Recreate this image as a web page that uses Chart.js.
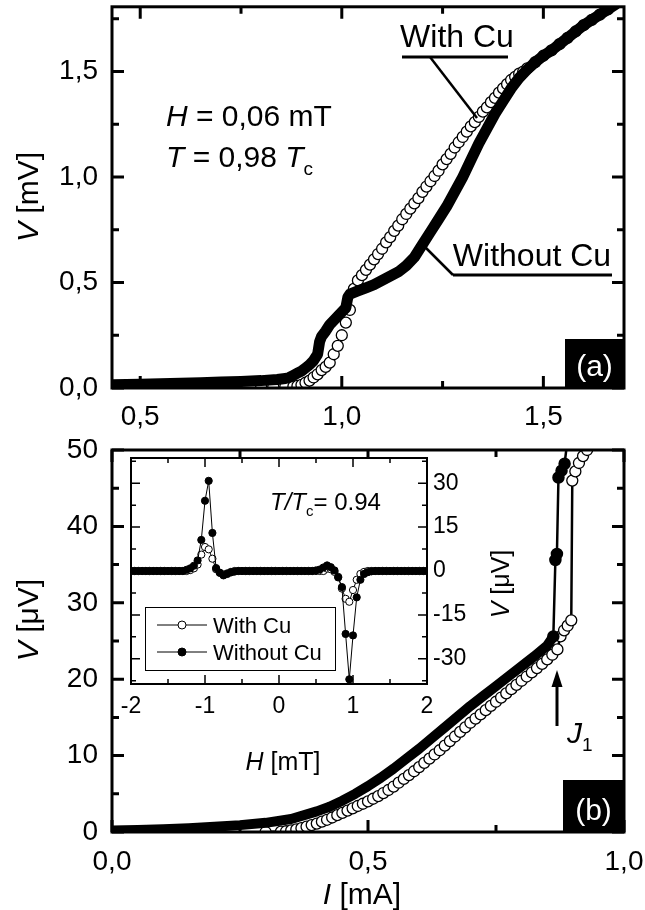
<!DOCTYPE html>
<html>
<head>
<meta charset="utf-8">
<script src="https://cdn.jsdelivr.net/npm/chart.js@4.4.1/dist/chart.umd.min.js"></script>
<style>
  html, body { margin: 0; padding: 0; background: #fff; }
  #wrap { position: relative; width: 645px; height: 910px; overflow: hidden; background: #fff; }
  canvas { position: absolute; }
</style>
</head>
<body>
<div id="wrap">
  <canvas id="top" width="645" height="440" style="left:0;top:0;width:645px;height:440px"></canvas>
  <canvas id="bottom" width="645" height="480" style="left:0;top:430px;width:645px;height:480px"></canvas>
  <canvas id="inset" width="440" height="360" style="left:100px;top:430px;width:440px;height:360px"></canvas>
</div>
<script>
const FONT = '"Liberation Sans", Arial, sans-serif';

// ---- panel (a): V [mV] vs I [mA], H = 0,06 mT
const topIWithout = [0.43,0.50,0.55,0.60,0.65,0.70,0.75,0.80,0.84,0.86,
  0.87,0.88,0.89,0.90,0.91,0.92,0.93,0.94,0.945,0.95,
  0.96,0.97,0.98,0.99,1.00,1.01,1.015,1.02,1.04,1.06,
  1.08,1.10,1.12,1.14,1.16,1.18,1.20,1.22,1.24,1.26,
  1.28,1.30,1.32,1.34,1.36,1.38,1.40,1.42,1.44,1.46,
  1.48,1.50,1.52,1.54,1.56,1.58,1.60,1.62,1.64,1.66,1.68];
const topVWithout = [0.015,0.018,0.02,0.022,0.025,0.028,0.031,0.035,0.04,0.045,
  0.05,0.06,0.07,0.08,0.095,0.11,0.13,0.16,0.22,0.245,
  0.27,0.30,0.32,0.34,0.36,0.38,0.43,0.445,0.46,0.475,
  0.49,0.51,0.53,0.55,0.58,0.62,0.68,0.74,0.80,0.86,
  0.93,1.0,1.08,1.16,1.23,1.30,1.36,1.42,1.47,1.51,
  1.545,1.575,1.60,1.63,1.66,1.69,1.72,1.745,1.77,1.795,1.82];
const topIWith = [0.80,0.83,0.86,0.88,0.89,0.90,0.91,0.92,0.93,0.94,
  0.95,0.96,0.97,0.98,0.99,1.00,1.01,1.02,1.03,1.04,
  1.05,1.06,1.07,1.08,1.09,1.10,1.11,1.12,1.13,1.14,
  1.15,1.16,1.17,1.18,1.19,1.20,1.21,1.22,1.23,1.24,
  1.25,1.26,1.27,1.28,1.29,1.30,1.31,1.32,1.33,1.34,
  1.35,1.36,1.37,1.38,1.39,1.40,1.41,1.42,1.43,1.44,
  1.45,1.46,1.48,1.50,1.52,1.54,1.56,1.58,1.60,1.62,
  1.64,1.66];
const topVWith = [0.005,0.006,0.007,0.008,0.01,0.015,0.025,0.035,0.05,0.065,
  0.085,0.10,0.12,0.16,0.20,0.25,0.31,0.37,0.47,0.51,
  0.535,0.56,0.585,0.61,0.635,0.66,0.69,0.715,0.745,0.77,
  0.80,0.825,0.85,0.875,0.90,0.93,0.955,0.98,1.005,1.03,
  1.06,1.085,1.11,1.14,1.165,1.19,1.215,1.24,1.26,1.285,
  1.31,1.33,1.355,1.375,1.40,1.42,1.44,1.46,1.475,1.49,
  1.50,1.515,1.545,1.575,1.60,1.63,1.66,1.69,1.72,1.745,
  1.77,1.795];

// ---- panel (b): V [uV] vs I [mA]
const botIWithout = [0,0.05,0.10,0.15,0.20,0.25,0.30,0.35,0.40,0.425,
  0.45,0.475,0.50,0.525,0.55,0.575,0.60,0.625,0.65,0.675,
  0.70,0.725,0.75,0.775,0.80,0.825,0.85,0.862,0.866,0.869,
  0.872,0.878,0.884,0.889];
const botVWithout = [0.2,0.25,0.35,0.5,0.7,0.9,1.2,1.7,2.7,3.3,
  4.1,5.0,6.0,7.1,8.3,9.6,10.9,12.3,13.7,15.1,
  16.5,17.8,19.1,20.4,21.7,23.0,24.4,25.6,35.6,36.4,
  46.4,47.3,48.2,51];
const botJumpAt = 27; // index of the last point before the voltage jump
const botIWith = [0.30,0.33,0.34,0.35,0.36,0.37,0.38,0.39,0.40,0.41,
  0.42,0.43,0.44,0.45,0.46,0.47,0.48,0.49,0.50,0.51,
  0.52,0.53,0.54,0.55,0.56,0.57,0.58,0.59,0.60,0.61,
  0.62,0.63,0.64,0.65,0.66,0.67,0.68,0.69,0.70,0.71,
  0.72,0.73,0.74,0.75,0.76,0.77,0.78,0.79,0.80,0.81,
  0.82,0.83,0.84,0.85,0.86,0.87,0.876,0.883,0.890,0.897,
  0.899,0.905,0.912,0.920,0.928,0.936];
const botVWith = [0,0.05,0.1,0.2,0.35,0.5,0.7,0.9,1.1,1.35,
  1.6,1.9,2.2,2.5,2.8,3.1,3.4,3.7,4.0,4.35,
  4.7,5.1,5.5,5.95,6.45,6.95,7.45,7.95,8.5,9.05,
  9.6,10.15,10.7,11.3,11.9,12.5,13.1,13.7,14.3,14.85,
  15.4,15.95,16.5,17.05,17.6,18.15,18.7,19.25,19.8,20.35,
  20.9,21.45,22.0,22.6,23.2,23.9,25.6,26.4,27.0,27.7,
  46.0,47.2,48.3,49.2,50.0,50.8];

// ---- inset: V [uV] vs H [mT], T/Tc = 0.94
const insetH = [-2.00,-1.95,-1.90,-1.85,-1.80,-1.75,-1.70,-1.65,-1.60,-1.55,
  -1.50,-1.45,-1.40,-1.35,-1.30,-1.25,-1.20,-1.15,-1.10,-1.05,
  -1.00,-0.95,-0.90,-0.85,-0.80,-0.75,-0.70,-0.65,-0.60,-0.55,
  -0.50,-0.45,-0.40,-0.35,-0.30,-0.25,-0.20,-0.15,-0.10,-0.05,
  0.00,0.05,0.10,0.15,0.20,0.25,0.30,0.35,0.40,0.45,
  0.50,0.55,0.60,0.65,0.70,0.75,0.80,0.85,0.90,0.95,
  1.00,1.05,1.10,1.15,1.20,1.25,1.30,1.35,1.40,1.45,
  1.50,1.55,1.60,1.65,1.70,1.75,1.80,1.85,1.90,1.95,
  2.00];
const insetWithout = [0,0,0,0,0,0,0,0,0,0,
  0,0,0,0,0,0.4,0.9,1.8,3.6,10.6,
  24.0,30.8,13.0,1.0,-0.6,-1.5,-1.0,-0.5,-0.2,0,
  0,0,0,0,0,0,0,0,0,0,
  0,0,0,0,0,0,0,0,0,0,
  0.2,0.5,1.2,1.9,1.3,0.2,-2.2,-5.5,-21.5,-37.0,
  -22.0,-9.0,-3.0,-1.0,-0.4,-0.1,0,0,0,0,
  0,0,0,0,0,0,0,0,0,0,
  0];
const insetWith = [0,0,0,0,0,0,0,0,0,0,
  0,0,0,0,0,0,0.3,0.9,2.2,5.6,
  8.2,7.4,4.2,0.6,-0.6,-1.2,-0.8,-0.3,0,0,
  0,0,0,0,0,0,0,0,0,0,
  0,0,0,0,0,0,0,0,0,0,
  0,0,0,0.8,0.6,-0.3,-2.0,-6.0,-9.5,-10.5,
  -6.5,-3.0,-1.0,-0.3,0,0,0,0,0,0,
  0,0,0,0,0,0,0,0,0,0,
  0];

// ---- ticks
const topXTicks = [0.5, 1.0, 1.5], topXLabels = ['0,5', '1,0', '1,5'], topXMinor = [0.75, 1.25];
const topYTicks = [0, 0.5, 1.0, 1.5], topYLabels = ['0,0', '0,5', '1,0', '1,5'], topYMinor = [0.25, 0.75, 1.25, 1.75];
const botXTicks = [0, 0.5, 1.0], botXLabels = ['0,0', '0,5', '1,0'], botXMinor = [0.25, 0.75];
const botYTicks = [0, 10, 20, 30, 40, 50], botYLabels = ['0', '10', '20', '30', '40', '50'], botYMinor = [5, 15, 25, 35, 45];
const insXTicks = [-2, -1, 0, 1, 2], insXLabels = ['-2', '-1', '0', '1', '2'], insXMinor = [-1.5, -0.5, 0.5, 1.5];
const insYTicks = [-30, -15, 0, 15, 30], insYLabels = ['-30', '-15', '0', '15', '30'], insYMinor = [-37.5, -22.5, -7.5, 7.5, 22.5, 37.5];

function pts(xs, ys) {
  return xs.map((x, i) => ({x: x, y: ys[i]}));
}

function axis(min, max, vals, labels, size, pad, fit, position) {
  return {
    type: 'linear', position: position, min: min, max: max,
    grid: {display: false, drawTicks: false},
    border: {display: false},
    afterBuildTicks: s => { s.ticks = vals.map(v => ({value: v})); },
    afterFit: s => {
      if (s.isHorizontal()) s.height = fit; else s.width = fit;
      s.paddingTop = 0; s.paddingBottom = 0; s.paddingLeft = 0; s.paddingRight = 0;
    },
    ticks: {
      autoSkip: false, maxRotation: 0, padding: pad, color: '#000',
      font: {family: FONT, size: size},
      callback: (v, i) => labels[i]
    }
  };
}

// frame + inward ticks on all four sides
function frame(cfg) {
  return {
    id: 'frame',
    beforeDatasetsDraw(chart) {
      if (!cfg.fill) return;
      const a = chart.chartArea, ctx = chart.ctx;
      ctx.save();
      ctx.fillStyle = '#fff';
      ctx.fillRect(a.left, a.top, a.right - a.left, a.bottom - a.top);
      ctx.restore();
    },
    afterDatasetsDraw(chart) {
      const a = chart.chartArea, ctx = chart.ctx;
      const x = chart.scales.x, y = chart.scales.y;
      ctx.save();
      ctx.strokeStyle = '#000';
      ctx.lineWidth = cfg.tw;
      const mark = (scale, vals, len) => {
        vals.forEach(v => {
          const p = scale.getPixelForValue(v);
          ctx.beginPath();
          if (scale.isHorizontal()) {
            ctx.moveTo(p, a.bottom); ctx.lineTo(p, a.bottom - len);
            ctx.moveTo(p, a.top); ctx.lineTo(p, a.top + len);
          } else {
            ctx.moveTo(a.left, p); ctx.lineTo(a.left + len, p);
            ctx.moveTo(a.right, p); ctx.lineTo(a.right - len, p);
          }
          ctx.stroke();
        });
      };
      mark(x, x.ticks.map(t => t.value), cfg.major);
      mark(x, cfg.xMinor, cfg.minor);
      mark(y, y.ticks.map(t => t.value), cfg.major);
      mark(y, cfg.yMinor, cfg.minor);
      ctx.lineWidth = cfg.fw;
      ctx.strokeRect(a.left, a.top, a.right - a.left, a.bottom - a.top);
      ctx.restore();
    }
  };
}

// text with italic / subscript pieces
function rich(ctx, parts, x, y, size, align) {
  const f = st => (st.indexOf('i') >= 0 ? 'italic ' : '') +
    (st.indexOf('s') >= 0 ? Math.round(size * 0.64) : size) + 'px ' + FONT;
  let w = 0;
  parts.forEach(p => { ctx.font = f(p[1]); w += ctx.measureText(p[0]).width; });
  let cx = align === 'center' ? x - w / 2 : (align === 'right' ? x - w : x);
  ctx.textAlign = 'left';
  ctx.textBaseline = 'alphabetic';
  parts.forEach(p => {
    ctx.font = f(p[1]);
    ctx.fillText(p[0], cx, y + (p[1].indexOf('s') >= 0 ? size * 0.25 : 0));
    cx += ctx.measureText(p[0]).width;
  });
}

function vtext(ctx, parts, cx, cy, size) {
  ctx.save();
  ctx.translate(cx + size * 0.36, cy);
  ctx.rotate(-Math.PI / 2);
  rich(ctx, parts, 0, 0, size, 'center');
  ctx.restore();
}

function line(ctx, x1, y1, x2, y2, w) {
  ctx.lineWidth = w;
  ctx.beginPath(); ctx.moveTo(x1, y1); ctx.lineTo(x2, y2); ctx.stroke();
}

function tagBox(ctx, l, t, r, b, txt) {
  ctx.fillStyle = '#000';
  ctx.fillRect(l, t, r - l, b - t);
  ctx.fillStyle = '#fff';
  rich(ctx, [[txt, '']], (l + r) / 2, b - 12, 30, 'center');
  ctx.fillStyle = '#000';
}

function notes(ox, oy, fn) {
  return {
    id: 'notes',
    afterDraw(chart) {
      const ctx = chart.ctx;
      ctx.save();
      ctx.translate(-ox, -oy);
      ctx.fillStyle = '#000';
      ctx.strokeStyle = '#000';
      fn(ctx);
      ctx.restore();
    }
  };
}

const baseOpts = {
  responsive: false, animation: false, events: [],
  plugins: {legend: {display: false}, tooltip: {enabled: false}}
};

// ---------- panel (a)
new Chart(document.getElementById('top'), {
  type: 'scatter',
  data: {
    datasets: [
      {
        label: 'Without Cu', data: pts(topIWithout, topVWithout),
        showLine: true, borderColor: '#000', borderWidth: 11,
        borderCapStyle: 'round', borderJoinStyle: 'round',
        pointRadius: 0, clip: 0
      },
      {
        label: 'With Cu', data: pts(topIWith, topVWith),
        showLine: false, pointRadius: 5.5, pointBorderWidth: 1.3,
        pointBackgroundColor: '#fff', pointBorderColor: '#000', clip: 0
      }
    ]
  },
  options: Object.assign({}, baseOpts, {
    layout: {padding: {top: 5, right: 21, left: 0, bottom: 0}},
    scales: {
      x: axis(0.43, 1.70, topXTicks, topXLabels, 28, 12, 52, 'bottom'),
      y: axis(0, 1.807, topYTicks, topYLabels, 28, 14, 112, 'left')
    }
  }),
  plugins: [
    frame({tw: 3, fw: 3, major: 12, minor: 7, xMinor: topXMinor, yMinor: topYMinor}),
    notes(0, 0, ctx => {
      vtext(ctx, [['V', 'i'], [' [mV]', '']], 27, 197, 30);
      rich(ctx, [['H', 'i'], [' = 0,06 mT', '']], 166, 126, 30, 'left');
      rich(ctx, [['T', 'i'], [' = 0,98 ', ''], ['T', 'i'], ['c', 's']], 166, 167, 30, 'left');
      rich(ctx, [['With Cu', '']], 457, 47, 32, 'center');
      line(ctx, 402, 57, 508, 57, 3);
      line(ctx, 430, 57, 477, 118, 2.5);
      rich(ctx, [['Without Cu', '']], 532, 266, 32, 'center');
      line(ctx, 453, 275, 612, 275, 3);
      line(ctx, 453, 275, 423, 245, 2.5);
      tagBox(ctx, 565, 339, 624, 388, '(a)');
    })
  ]
});

// ---------- panel (b)
const botWithoutPts = pts(botIWithout, botVWithout);
new Chart(document.getElementById('bottom'), {
  type: 'scatter',
  data: {
    datasets: [
      {
        label: 'Without Cu', data: botWithoutPts.slice(0, botJumpAt + 1),
        showLine: true, borderColor: '#000', borderWidth: 10,
        borderCapStyle: 'round', borderJoinStyle: 'round',
        pointRadius: 0, clip: 0
      },
      {
        label: 'Without Cu (jump)', data: botWithoutPts.slice(botJumpAt),
        showLine: true, borderColor: '#000', borderWidth: 2.5,
        pointRadius: 5, pointBackgroundColor: '#000', pointBorderColor: '#000', clip: 0
      },
      {
        label: 'With Cu', data: pts(botIWith, botVWith),
        showLine: true, borderColor: '#000', borderWidth: 2.5,
        pointRadius: 5.5, pointBorderWidth: 1.3,
        pointBackgroundColor: '#fff', pointBorderColor: '#000', clip: 0
      }
    ]
  },
  options: Object.assign({}, baseOpts, {
    layout: {padding: {top: 20, right: 21, left: 0, bottom: 0}},
    scales: {
      x: axis(0, 1.0, botXTicks, botXLabels, 28, 13, 78, 'bottom'),
      y: axis(0, 50, botYTicks, botYLabels, 28, 14, 112, 'left')
    }
  }),
  plugins: [
    frame({tw: 3, fw: 3, major: 12, minor: 7, xMinor: botXMinor, yMinor: botYMinor}),
    notes(0, 430, ctx => {
      vtext(ctx, [['V', 'i'], [' [\u03bcV]', '']], 27, 620, 30);
      rich(ctx, [['I', 'i'], [' [mA]', '']], 362, 904, 30, 'center');
      tagBox(ctx, 563, 780, 624, 832, '(b)');
      rich(ctx, [['J', 'i'], ['1', 's']], 567, 743, 30, 'left');
      line(ctx, 557, 726, 557, 684, 3);
      ctx.beginPath();
      ctx.moveTo(557, 670); ctx.lineTo(551.5, 687); ctx.lineTo(562.5, 687);
      ctx.closePath(); ctx.fill();
    })
  ]
});

// ---------- inset
new Chart(document.getElementById('inset'), {
  type: 'scatter',
  data: {
    datasets: [
      {
        label: 'Without Cu', data: pts(insetH, insetWithout),
        showLine: true, borderColor: '#000', borderWidth: 1,
        pointRadius: 3.6, pointBackgroundColor: '#000', pointBorderColor: '#000', clip: 0
      },
      {
        label: 'With Cu', data: pts(insetH, insetWith),
        showLine: true, borderColor: '#000', borderWidth: 1,
        pointRadius: 3.6, pointBorderWidth: 1,
        pointBackgroundColor: '#fff', pointBorderColor: '#000', clip: 0
      }
    ]
  },
  options: Object.assign({}, baseOpts, {
    layout: {padding: {top: 28, right: 0, left: 31, bottom: 0}},
    scales: {
      x: axis(-2, 2, insXTicks, insXLabels, 23, 9, 106, 'bottom'),
      y: axis(-38.6, 38.6, insYTicks, insYLabels, 23, 6, 113, 'right')
    }
  }),
  plugins: [
    frame({fill: true, tw: 1.5, fw: 2, major: 9, minor: 5, xMinor: insXMinor, yMinor: insYMinor}),
    notes(100, 430, ctx => {
      rich(ctx, [['T/T', 'i'], ['c', 's'], ['= 0.94', '']], 270, 510, 24, 'left');
      rich(ctx, [['H', 'i'], [' [mT]', '']], 283, 770, 25, 'center');
      vtext(ctx, [['V', 'i'], [' [\u03bcV]', '']], 500, 584, 25);
      // legend
      ctx.fillStyle = '#fff';
      ctx.fillRect(145, 607, 190, 63);
      ctx.lineWidth = 1;
      ctx.strokeRect(145.5, 607.5, 190, 63);
      const rows = [[625, '#fff', 'With Cu'], [652, '#000', 'Without Cu']];
      rows.forEach(r => {
        line(ctx, 157, r[0], 207, r[0], 1);
        ctx.beginPath();
        ctx.arc(182, r[0], 4, 0, Math.PI * 2);
        ctx.fillStyle = r[1];
        ctx.fill();
        ctx.lineWidth = 1;
        ctx.stroke();
        ctx.fillStyle = '#000';
        rich(ctx, [[r[2], '']], 213, r[0] + 8, 22, 'left');
      });
    })
  ]
});
</script>
</body>
</html>
